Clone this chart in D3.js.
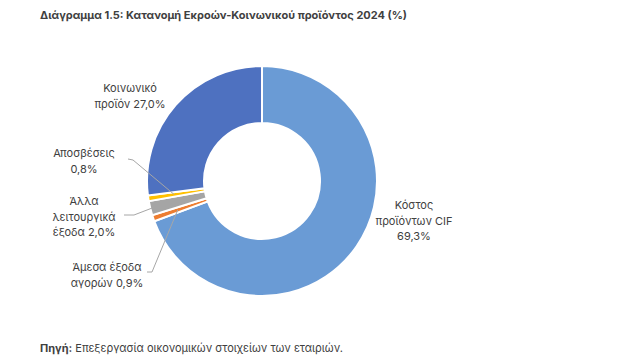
<!DOCTYPE html>
<html>
<head>
<meta charset="utf-8">
<script src="https://cdn.jsdelivr.net/npm/d3@7"></script>
<style>
  body { margin: 0; background: #fff; }
  svg text { font-family: Inter, "Noto Sans", sans-serif; fill: #404040; }
</style>
</head>
<body>
<script>
// data, clockwise from 12 o'clock
const categories = ["Κόστος προϊόντων CIF", "Άμεσα έξοδα αγορών", "Άλλα λειτουργικά έξοδα", "Αποσβέσεις", "Κοινωνικό προϊόν"];
const values = [69.3, 0.9, 2.0, 0.8, 27.0];
const labelLines = [
    ["Κόστος", "προϊόντων CIF", "69,3%"],
    ["Άμεσα έξοδα", "αγορών 0,9%"],
    ["Άλλα", "λειτουργικά", "έξοδα 2,0%"],
    ["Αποσβέσεις", "0,8%"],
    ["Κοινωνικό", "προϊόν 27,0%"]
];
const colors = ["#6a9bd5", "#ed7d31", "#a5a5a5", "#ffc000", "#4e71c0"];

// label layout: centre of text block, optional leader line
const labelPos = [
    {x: 414, y: 205, leader: null},
    {x: 107, y: 267, leader: [[147, 272], [152, 272]], r: 89},
    {x: 84, y: 201, leader: [[124, 215], [134, 215]], r: 111},
    {x: 84, y: 153, leader: [[128, 159], [133, 160]], r: 89},
    {x: 130, y: 88, leader: null}
];

const width = 618, height = 362;
const cx = 262, cy = 181, outerR = 115, innerR = 58;

const svg = d3.select("body").append("svg")
    .attr("width", width).attr("height", height);

svg.append("text")
    .attr("x", 40).attr("y", 19)
    .attr("font-size", 11).attr("font-weight", 700)
    .text("Διάγραμμα 1.5: Κατανομή Εκροών-Κοινωνικού προϊόντος 2024 (%)");

const pie = d3.pie().sort(null).value(d => d)(values);
const arc = d3.arc().innerRadius(innerR).outerRadius(outerR);

const g = svg.append("g").attr("transform", "translate(" + cx + "," + cy + ")");

g.selectAll("path")
  .data(pie)
  .enter().append("path")
    .attr("d", arc)
    .attr("fill", (d, i) => colors[i])
    .attr("stroke", "#fff")
    .attr("stroke-width", 2);

// leader lines
pie.forEach((d, i) => {
    const p = labelPos[i];
    if (!p.leader) return;
    const a = (d.startAngle + d.endAngle) / 2;
    const end = [cx + p.r * Math.sin(a), cy - p.r * Math.cos(a)];
    svg.append("polyline")
        .attr("points", p.leader.concat([end]).map(q => q.join(",")).join(" "))
        .attr("fill", "none")
        .attr("stroke", "#a6a6a6")
        .attr("stroke-width", 1);
});

// labels
labelLines.forEach((lines, i) => {
    const p = labelPos[i];
    const t = svg.append("text")
        .attr("text-anchor", "middle")
        .attr("font-size", 11);
    lines.forEach((l, j) => {
        t.append("tspan")
            .attr("x", p.x)
            .attr("y", p.y + j * 15.5 + 4)
            .text(l);
    });
});

const src = svg.append("text")
    .attr("x", 40).attr("y", 352)
    .attr("font-size", 11);
src.append("tspan").attr("font-weight", 700).text("Πηγή:");
src.append("tspan").text(" Επεξεργασία οικονομικών στοιχείων των εταιριών.");
</script>
</body>
</html>
